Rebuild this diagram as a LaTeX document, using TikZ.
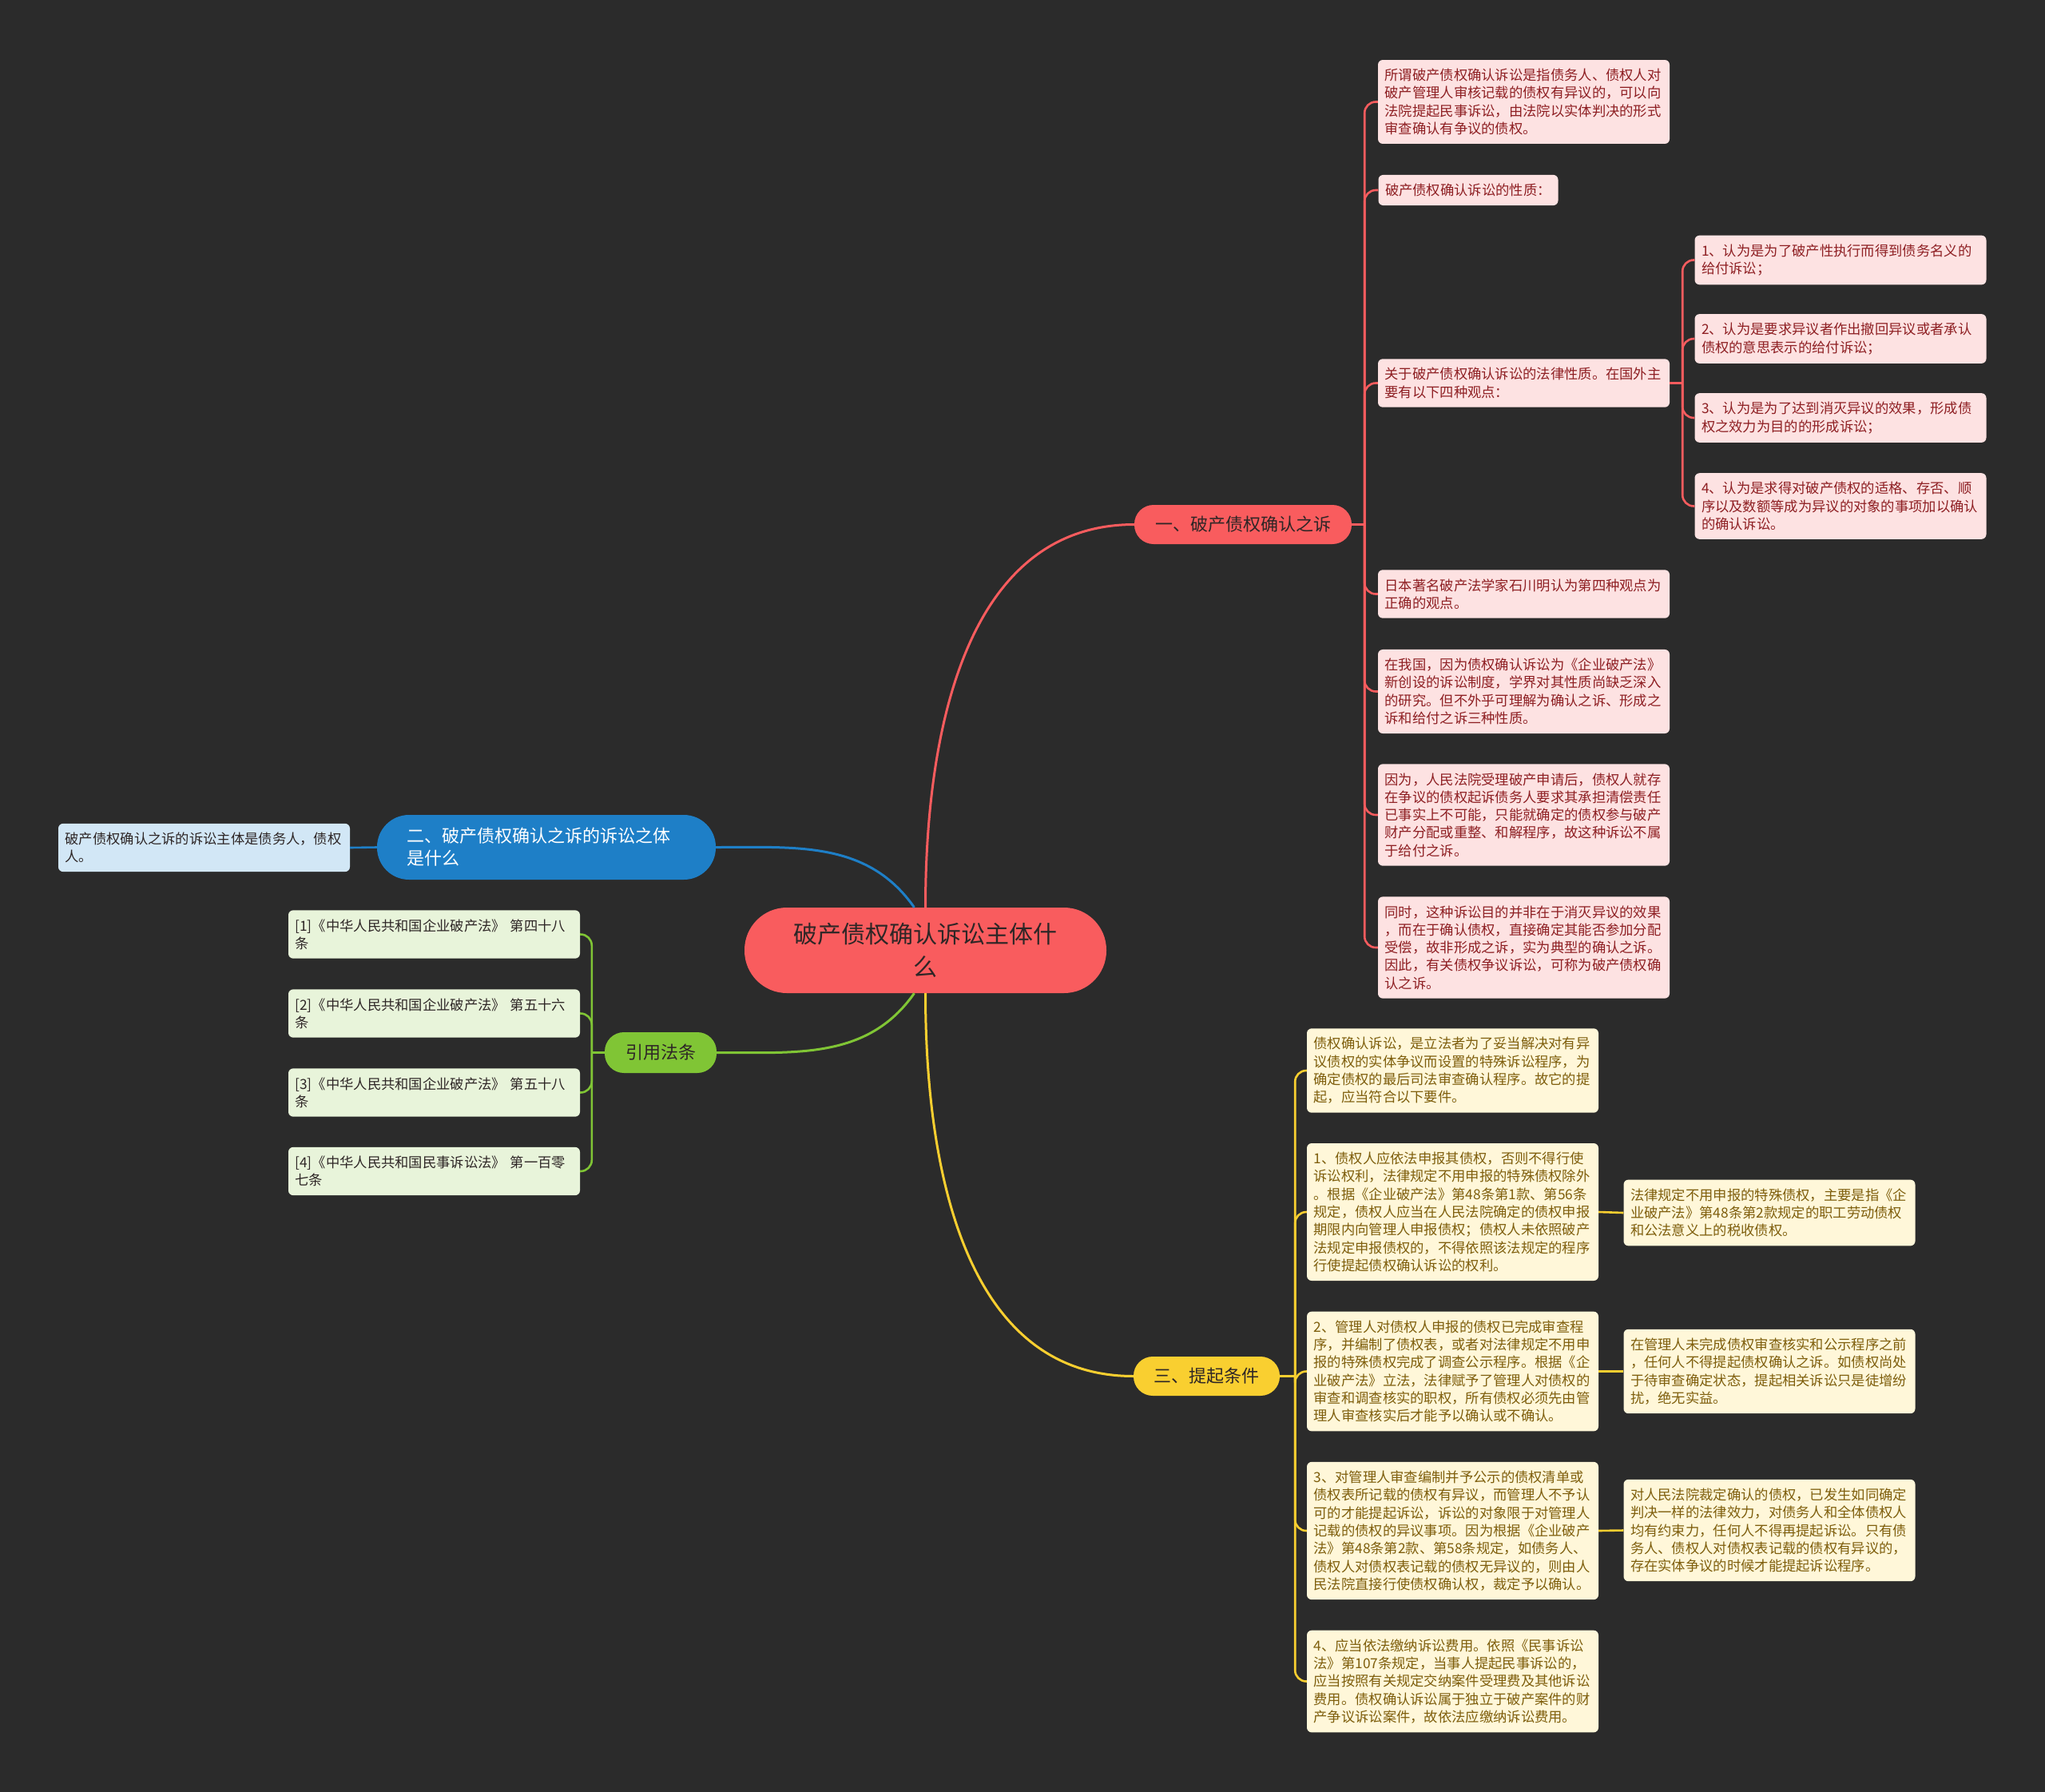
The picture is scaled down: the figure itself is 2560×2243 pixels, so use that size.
\documentclass[tikz,border=0pt]{standalone}
\usepackage{fontspec}
\setmainfont{Noto Sans CJK SC}

\definecolor{bg}{HTML}{2B2B2B}
\definecolor{mainred}{HTML}{F95C5E}
\definecolor{mainblue}{HTML}{1E7FC7}
\definecolor{maingreen}{HTML}{80C535}
\definecolor{mainyellow}{HTML}{F9CF30}
\definecolor{redfill}{HTML}{FDE2E2}
\definecolor{redtext}{HTML}{8E1F23}
\definecolor{yellowfill}{HTML}{FFF7D9}
\definecolor{yellowtext}{HTML}{7E5E0C}
\definecolor{greenfill}{HTML}{E8F4DA}
\definecolor{bluefill}{HTML}{D2E7F6}
\definecolor{darktext}{HTML}{2E2626}

\tikzset{
    leaf/.style={rounded corners=6pt, text width=348pt, inner xsep=8.5pt, inner ysep=11pt,
        align=left, font=\fontsize{17.3}{22.3}\selectfont},
    redleaf/.style={leaf, fill=redfill, text=redtext},
    yellowleaf/.style={leaf, fill=yellowfill, text=yellowtext},
    greenleaf/.style={leaf, fill=greenfill, text=darktext},
    blueleaf/.style={leaf, fill=bluefill, text=darktext},
    branch/.style={rounded corners=24pt, minimum height=49pt, inner xsep=26pt, inner ysep=0pt,
        text=darktext, font=\fontsize{22}{28}\selectfont},
    rootnode/.style={fill=mainred, rounded corners=53pt, minimum width=453pt, minimum height=107pt,
        text width=340pt, align=center, text=darktext, font=\fontsize{30}{41}\selectfont},
    link/.style={line width=3pt},
    spine/.style={line width=2.6pt, rounded corners=14pt}
}

\begin{document}
\begin{tikzpicture}[x=1pt, y=-1pt]
    \useasboundingbox[fill=bg] (0,0) rectangle (2560,2243);

    \node[rootnode] (root) at (1158.5,1189.5) {破产债权确认诉讼主体什\\么};

    \node[branch, fill=mainred] (suit) at (1556,656.5) {一、破产债权确认之诉};
    \node[branch, fill=mainblue, text=white, text width=350pt, align=left, inner xsep=37pt,
        minimum height=81pt, rounded corners=40pt] (subject) at (684,1060.5)
        {二、破产债权确认之诉的诉讼之体\\是什么};
    \node[branch, fill=maingreen, minimum height=51pt] (laws) at (827,1317.5) {引用法条};
    \node[branch, fill=mainyellow, inner xsep=25.5pt] (cond) at (1510.5,1722.5) {三、提起条件};

    \node[redleaf] (suit1) at (1907.5,127.5) {所谓破产债权确认诉讼是指债务人、债权人对\\
        破产管理人审核记载的债权有异议的，可以向\\
        法院提起民事诉讼，由法院以实体判决的形式\\
        审查确认有争议的债权。};
    \node[redleaf, text width=208pt] (suit2) at (1838,238) {破产债权确认诉讼的性质：};
    \node[redleaf] (suit3) at (1907.5,479.5) {关于破产债权确认诉讼的法律性质。在国外主\\
        要有以下四种观点：};
    \node[redleaf] (suit4) at (1907.5,743.5) {日本著名破产法学家石川明认为第四种观点为\\
        正确的观点。};
    \node[redleaf] (suit5) at (1907.5,865.5) {在我国，因为债权确认诉讼为《企业破产法》\\
        新创设的诉讼制度，学界对其性质尚缺乏深入\\
        的研究。但不外乎可理解为确认之诉、形成之\\
        诉和给付之诉三种性质。};
    \node[redleaf] (suit6) at (1907.5,1020) {因为，人民法院受理破产申请后，债权人就存\\
        在争议的债权起诉债务人要求其承担清偿责任\\
        已事实上不可能，只能就确定的债权参与破产\\
        财产分配或重整、和解程序，故这种诉讼不属\\
        于给付之诉。};
    \node[redleaf] (suit7) at (1907.5,1186) {同时，这种诉讼目的并非在于消灭异议的效果\\
        ，而在于确认债权，直接确定其能否参加分配\\
        受偿，故非形成之诉，实为典型的确认之诉。\\
        因此，有关债权争议诉讼，可称为破产债权确\\
        认之诉。};

    \node[redleaf] (view1) at (2304,325.5) {1、认为是为了破产性执行而得到债务名义的\\
        给付诉讼；};
    \node[redleaf] (view2) at (2304,424) {2、认为是要求异议者作出撤回异议或者承认\\
        债权的意思表示的给付诉讼；};
    \node[redleaf] (view3) at (2304,523) {3、认为是为了达到消灭异议的效果，形成债\\
        权之效力为目的的形成诉讼；};
    \node[redleaf] (view4) at (2304,633.5) {4、认为是求得对破产债权的适格、存否、顺\\
        序以及数额等成为异议的对象的事项加以确认\\
        的确认诉讼。};

    \node[blueleaf] (subj1) at (255.5,1061) {破产债权确认之诉的诉讼主体是债务人，债权\\
        人。};

    \node[greenleaf] (law1) at (543.5,1169.5) {[1]《中华人民共和国企业破产法》 第四十八\\条};
    \node[greenleaf] (law2) at (543.5,1268.5) {[2]《中华人民共和国企业破产法》 第五十六\\条};
    \node[greenleaf] (law3) at (543.5,1367.5) {[3]《中华人民共和国企业破产法》 第五十八\\条};
    \node[greenleaf] (law4) at (543.5,1466) {[4]《中华人民共和国民事诉讼法》 第一百零\\七条};

    \node[yellowleaf] (cond1) at (1818.5,1340) {债权确认诉讼，是立法者为了妥当解决对有异\\
        议债权的实体争议而设置的特殊诉讼程序，为\\
        确定债权的最后司法审查确认程序。故它的提\\
        起，应当符合以下要件。};
    \node[yellowleaf] (cond2) at (1818.5,1517) {1、债权人应依法申报其债权，否则不得行使\\
        诉讼权利，法律规定不用申报的特殊债权除外\\
        。根据《企业破产法》第48条第1款、第56条\\
        规定，债权人应当在人民法院确定的债权申报\\
        期限内向管理人申报债权；债权人未依照破产\\
        法规定申报债权的，不得依照该法规定的程序\\
        行使提起债权确认诉讼的权利。};
    \node[yellowleaf] (cond3) at (1818.5,1716.5) {2、管理人对债权人申报的债权已完成审查程\\
        序，并编制了债权表，或者对法律规定不用申\\
        报的特殊债权完成了调查公示程序。根据《企\\
        业破产法》立法，法律赋予了管理人对债权的\\
        审查和调查核实的职权，所有债权必须先由管\\
        理人审查核实后才能予以确认或不确认。};
    \node[yellowleaf] (cond4) at (1818.5,1916) {3、对管理人审查编制并予公示的债权清单或\\
        债权表所记载的债权有异议，而管理人不予认\\
        可的才能提起诉讼，诉讼的对象限于对管理人\\
        记载的债权的异议事项。因为根据《企业破产\\
        法》第48条第2款、第58条规定，如债务人、\\
        债权人对债权表记载的债权无异议的，则由人\\
        民法院直接行使债权确认权，裁定予以确认。};
    \node[yellowleaf] (cond5) at (1818.5,2104.5) {4、应当依法缴纳诉讼费用。依照《民事诉讼\\
        法》第107条规定，当事人提起民事诉讼的，\\
        应当按照有关规定交纳案件受理费及其他诉讼\\
        费用。债权确认诉讼属于独立于破产案件的财\\
        产争议诉讼案件，故依法应缴纳诉讼费用。};

    \node[yellowleaf] (note2) at (2215,1518) {法律规定不用申报的特殊债权，主要是指《企\\
        业破产法》第48条第2款规定的职工劳动债权\\
        和公法意义上的税收债权。};
    \node[yellowleaf] (note3) at (2215,1716.5) {在管理人未完成债权审查核实和公示程序之前\\
        ，任何人不得提起债权确认之诉。如债权尚处\\
        于待审查确定状态，提起相关诉讼只是徒增纷\\
        扰，绝无实益。};
    \node[yellowleaf] (note4) at (2215,1915.5) {对人民法院裁定确认的债权，已发生如同确定\\
        判决一样的法律效力，对债务人和全体债权人\\
        均有约束力，任何人不得再提起诉讼。只有债\\
        务人、债权人对债权表记载的债权有异议的，\\
        存在实体争议的时候才能提起诉讼程序。};

    % main branches
    \draw[link, mainred] (root.north) to[out=90, in=180] (suit.west);
    \draw[link, mainyellow] (root.south) to[out=-90, in=180] (cond.west);
    \draw[link, mainblue] ([xshift=-14pt]root.north) to[out=125, in=0] (subject.east);
    \draw[link, maingreen] ([xshift=-14pt]root.south) to[out=-125, in=0] (laws.east);

    % fork points
    \coordinate (suitfork) at ([xshift=16pt]suit.east);
    \coordinate (viewfork) at ([xshift=16pt]suit3.east);
    \coordinate (lawfork) at ([xshift=-16pt]laws.west);
    \coordinate (condfork) at ([xshift=19pt]cond.east);

    \draw[spine, mainred] (suit.east) -- (suitfork);
    \draw[spine, mainred] (suitfork) |- (suit1.west);
    \draw[spine, mainred] (suitfork) |- (suit2.west);
    \draw[spine, mainred] (suitfork) |- (suit3.west);
    \draw[spine, mainred] (suitfork) |- (suit4.west);
    \draw[spine, mainred] (suitfork) |- (suit5.west);
    \draw[spine, mainred] (suitfork) |- (suit6.west);
    \draw[spine, mainred] (suitfork) |- (suit7.west);

    \draw[spine, mainred] (suit3.east) -- (viewfork);
    \draw[spine, mainred] (viewfork) |- (view1.west);
    \draw[spine, mainred] (viewfork) |- (view2.west);
    \draw[spine, mainred] (viewfork) |- (view3.west);
    \draw[spine, mainred] (viewfork) |- (view4.west);

    \draw[spine, mainblue] (subject.west) -- (subj1.east);

    \draw[spine, maingreen] (laws.west) -- (lawfork);
    \draw[spine, maingreen] (lawfork) |- (law1.east);
    \draw[spine, maingreen] (lawfork) |- (law2.east);
    \draw[spine, maingreen] (lawfork) |- (law3.east);
    \draw[spine, maingreen] (lawfork) |- (law4.east);

    \draw[spine, mainyellow] (cond.east) -- (condfork);
    \draw[spine, mainyellow] (condfork) |- (cond1.west);
    \draw[spine, mainyellow] (condfork) |- (cond2.west);
    \draw[spine, mainyellow] (condfork) |- (cond3.west);
    \draw[spine, mainyellow] (condfork) |- (cond4.west);
    \draw[spine, mainyellow] (condfork) |- (cond5.west);

    \draw[spine, mainyellow] (cond2.east) -- (note2.west);
    \draw[spine, mainyellow] (cond3.east) -- (note3.west);
    \draw[spine, mainyellow] (cond4.east) -- (note4.west);
\end{tikzpicture}
\end{document}
